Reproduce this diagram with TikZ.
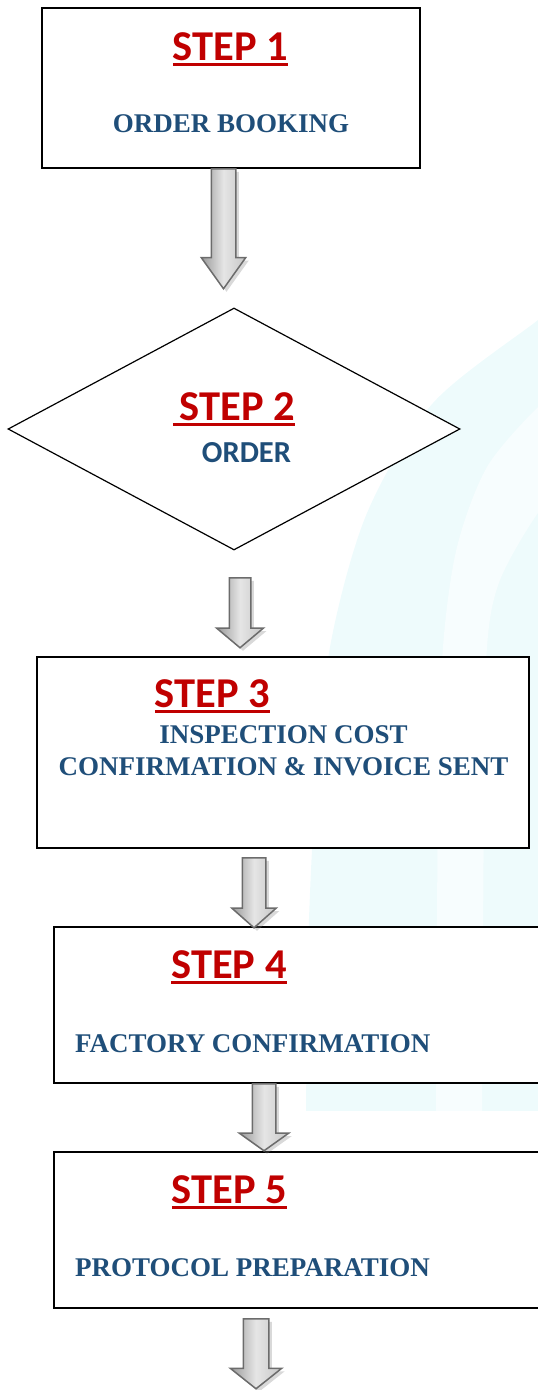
\documentclass[tikz,border=0pt]{standalone}
\usepackage{fontspec}
\setmainfont{Liberation Serif}
\newfontfamily\calibri{Carlito}
\usetikzlibrary{shapes.geometric,shapes.arrows,shadows}

\definecolor{stepred}{HTML}{C00000}
\definecolor{stepblue}{HTML}{1F4E79}
\definecolor{wmark}{HTML}{EEFBFC}

% red underlined step title, optional underline lead-in
\newcommand{\steplabel}[2][0pt]{{\calibri\bfseries\fontsize{42.5}{50}\selectfont\color{stepred}%
  \setbox0\hbox{\hspace{#1}#2}\rlap{\rule[-6pt]{\wd0}{2.8pt}}\box0}}

\tikzset{
  box/.style={draw=black, line width=1.5pt, fill=white, inner sep=0pt},
  ttl/.style={inner sep=0pt, anchor=base},
  desc/.style={inner sep=0pt, text=stepblue, font=\bfseries\fontsize{27}{32}\selectfont},
  down/.style={single arrow, shape border rotate=270, anchor=tail, inner ysep=0pt,
    draw=gray!85!black, line width=1.5pt,
    left color=gray!80, right color=gray!45, middle color=gray!20,
    drop shadow={shadow xshift=3pt, shadow yshift=-3pt, opacity=.3, fill=gray}},
}

\begin{document}
\begin{tikzpicture}[x=1pt,y=-1pt]
  \useasboundingbox (0,0) rectangle (538,1390);

  % faint watermark in the background
  \begin{scope}
    \clip (300,280) rectangle (538,1110);
    \fill[wmark] plot[smooth] coordinates {(560,300) (538,320) (433,403) (367,513) (330,647) (315,800) (308,950) (306,1120)}
      -- (560,1120) -- cycle;
    \fill[white!55!wmark] plot[smooth] coordinates {(560,395) (538,407) (487,467) (457,547) (443,647) (438,800) (436,1120)}
      -- plot[smooth] coordinates {(482,1120) (484,800) (487,647) (500,580) (538,513) (560,500)} -- cycle;
  \end{scope}

  % steps
  \node[box, line width=2pt, minimum width=378pt, minimum height=160pt] (b1) at (231,88) {};
  \node[diamond, draw=black, line width=1.2pt, fill=white, inner sep=0pt,
        minimum width=452pt, minimum height=242pt] (d2) at (234,429) {};
  \node[box, minimum width=492pt, minimum height=191pt] (b3) at (283,752.5) {};
  \node[box, minimum width=506pt, minimum height=156pt] (b4) at (307,1005) {};
  \node[box, minimum width=506pt, minimum height=156pt] (b5) at (307,1230) {};

  % block arrows between the steps
  \node[down, minimum height=120pt, minimum width=43pt, inner xsep=11.5pt, single arrow head extend=10pt, single arrow tip angle=71] (ar1) at (223.5,168) {};
  \node[down, minimum height=70pt, minimum width=45pt, inner xsep=10pt, single arrow head extend=12.5pt, single arrow tip angle=100] (ar2) at (240,577) {};
  \node[down, minimum height=70pt, minimum width=43pt, inner xsep=11pt, single arrow head extend=10.5pt, single arrow tip angle=97] (ar3) at (254,857) {};
  \node[down, minimum height=67pt, minimum width=48pt, inner xsep=11pt, single arrow head extend=13pt, single arrow tip angle=109] (ar4) at (264,1083) {};
  \node[down, minimum height=70pt, minimum width=50pt, inner xsep=12pt, single arrow head extend=13pt, single arrow tip angle=103] (ar5) at (256,1318) {};

  % texts
  \node[ttl] (s1) at (230.5,60) {\steplabel{STEP 1}};
  \node[desc, anchor=base] (t1) at (231,132) {ORDER BOOKING};

  \node[ttl] (s2) at (234,420) {\steplabel[7pt]{STEP 2}};
  \node[ttl, text=stepblue, font=\calibri\bfseries\fontsize{30.5}{36}\selectfont] (t2) at (246.5,462) {ORDER};

  \node[ttl] (s3) at (212.5,707) {\steplabel{STEP 3}};
  \node[desc, anchor=base] (t3a) at (283.5,743) {INSPECTION COST};
  \node[desc, anchor=base] (t3b) at (283.5,775) {CONFIRMATION \& INVOICE SENT};

  \node[ttl] (s4) at (229,978) {\steplabel{STEP 4}};
  \node[desc, anchor=base west] (t4) at (75,1052) {FACTORY CONFIRMATION};

  \node[ttl] (s5) at (229.5,1203) {\steplabel{STEP 5}};
  \node[desc, anchor=base west] (t5) at (75,1276) {PROTOCOL PREPARATION};
\end{tikzpicture}
\end{document}
